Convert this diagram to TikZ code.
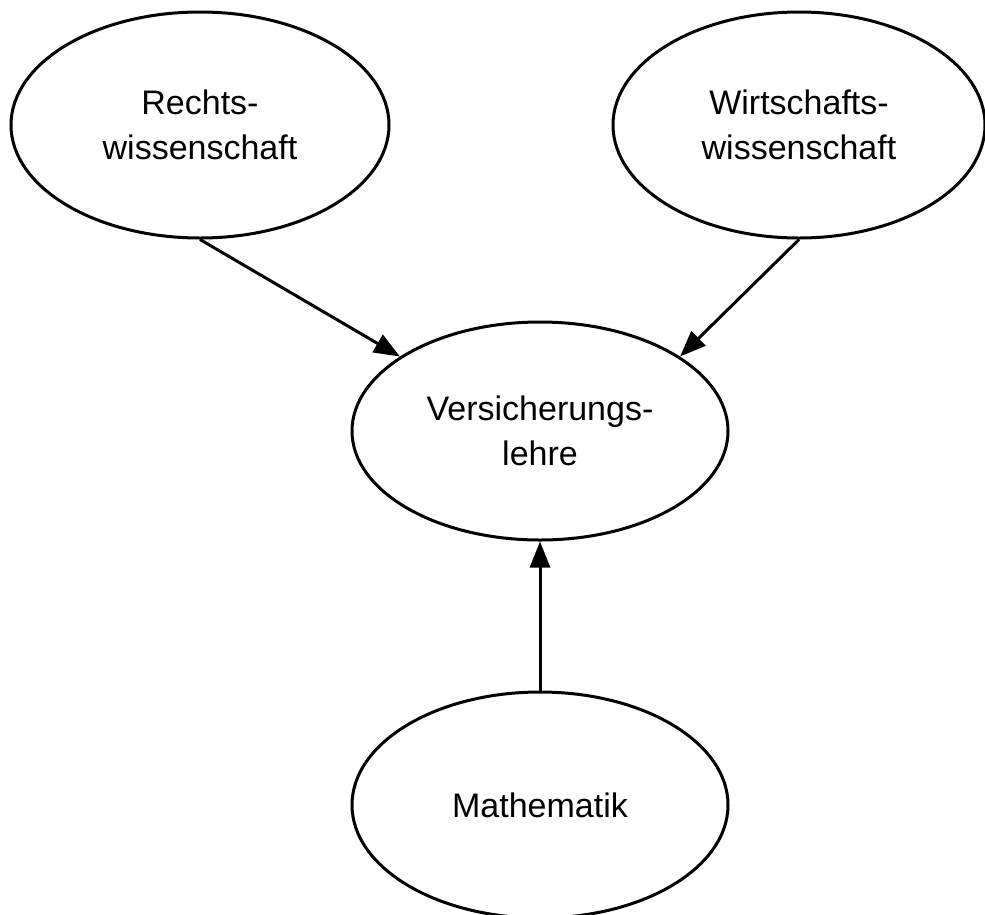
\documentclass[tikz,border=0pt]{standalone}
\usepackage{fontspec}
\setmainfont{Liberation Sans}
\usetikzlibrary{shapes.geometric,arrows.meta}
\begin{document}
\begin{tikzpicture}[x=1pt,y=-1pt,
  topic/.style={draw=black,line width=3pt,ellipse,inner sep=0pt,align=center,
    font=\fontsize{34}{45}\selectfont},
  link/.style={line width=3pt,-{Triangle[length=26pt,width=20pt]}}]
\useasboundingbox (0,0) rectangle (985,914);
\node[topic,minimum width=378pt,minimum height=226pt] (R) at (200,125) {Rechts-\\wissenschaft};
\node[topic,minimum width=372pt,minimum height=226pt] (W) at (799,125) {Wirtschafts-\\wissenschaft};
\node[topic,minimum width=376pt,minimum height=218pt] (V) at (540,431) {Versicherungs-\\lehre};
\node[topic,minimum width=376pt,minimum height=226pt] (M) at (540,805) {Mathematik};
\draw[link] (R.south) -- (V.152);
\draw[link] (W.south) -- (V.28);
\draw[link] (M.north) -- (V.south);
\end{tikzpicture}
\end{document}
